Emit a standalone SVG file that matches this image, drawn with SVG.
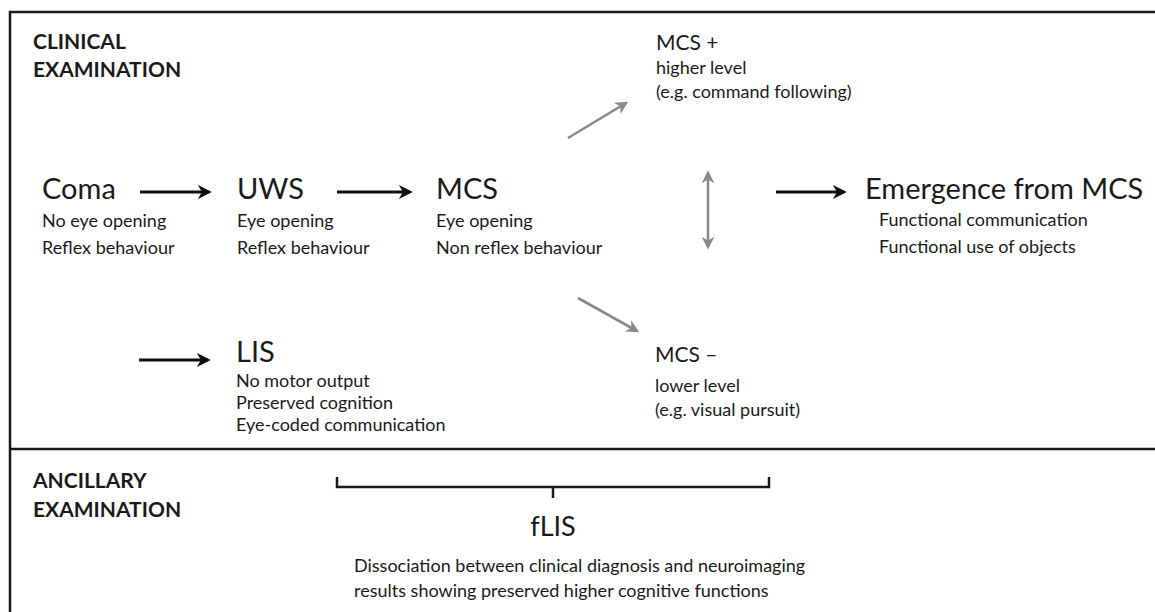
<svg xmlns="http://www.w3.org/2000/svg" width="1155" height="612" viewBox="0 0 1155 612">
<style>
text{font-family:Lato,"Liberation Sans",sans-serif;fill:#1a1a1a}
.h{font-weight:bold;font-size:21px}
.big{font-size:29px}
.mid{font-size:21px}
.sub{font-size:18px}
.ln{stroke:#1a1a1a;stroke-width:2.5;fill:none}
.blk{stroke:#111;stroke-width:2.8;fill:none;marker-end:url(#ab)}
.gry{stroke:#8a8a8a;stroke-width:2.6;fill:none;marker-end:url(#ag)}
</style>
<defs>
<marker id="ab" viewBox="0 0 10 10" refX="8" refY="5" markerWidth="5" markerHeight="5" orient="auto" markerUnits="strokeWidth"><path d="M0,0 L10,5 L0,10 L3,5 z" fill="#111"/></marker>
<marker id="ag" viewBox="0 0 10 10" refX="8" refY="5" markerWidth="5" markerHeight="5" orient="auto-start-reverse" markerUnits="strokeWidth"><path d="M0,0 L10,5 L0,10 L3,5 z" fill="#8a8a8a"/></marker>
</defs>
<rect width="1155" height="612" fill="#fff"/>
<g id="frame">
<path class="ln" d="M10,612 V12 H1155"/>
<path class="ln" d="M10,449 H1155" stroke-width="3"/>
</g>
<g id="clinical"><text class="h" x="33" y="49">CLINICAL</text><text class="h" x="33" y="77">EXAMINATION</text></g>
<g id="ancillary"><text class="h" x="33" y="488">ANCILLARY</text><text class="h" x="33" y="517">EXAMINATION</text></g>
<g id="coma"><text class="big" x="42" y="199">Coma</text><text class="sub" x="42" y="227">No eye opening</text><text class="sub" x="42" y="254">Reflex behaviour</text></g>
<g id="uws"><text class="big" x="237" y="199">UWS</text><text class="sub" x="237" y="227">Eye opening</text><text class="sub" x="237" y="254">Reflex behaviour</text></g>
<g id="mcs"><text class="big" x="436" y="199">MCS</text><text class="sub" x="436" y="227">Eye opening</text><text class="sub" x="436" y="254">Non reflex behaviour</text></g>
<g id="mcsplus"><text class="mid" x="656" y="50">MCS +</text><text class="sub" x="656" y="74">higher level</text><text class="sub" x="656" y="98">(e.g. command following)</text></g>
<g id="mcsminus"><text class="mid" x="655" y="362">MCS –</text><text class="sub" x="655" y="392">lower level</text><text class="sub" x="655" y="416">(e.g. visual pursuit)</text></g>
<g id="emergence"><text class="big" x="865" y="199">Emergence from MCS</text><text class="sub" x="879" y="226">Functional communication</text><text class="sub" x="879" y="253">Functional use of objects</text></g>
<g id="lis"><text class="big" x="236" y="362">LIS</text><text class="sub" x="236" y="387">No motor output</text><text class="sub" x="236" y="409">Preserved cognition</text><text class="sub" x="236" y="431">Eye-coded communication</text></g>
<g id="flis"><text x="553" y="536" text-anchor="middle" font-size="27">fLIS</text><text class="sub" x="354" y="572">Dissociation between clinical diagnosis and neuroimaging</text><text class="sub" x="354" y="597">results showing preserved higher cognitive functions</text></g>
<g id="connectors">
<path class="blk" d="M140,192 H209"/>
<path class="blk" d="M337,192 H410"/>
<path class="blk" d="M776,192 H844"/>
<path class="blk" d="M139,360 H208"/>
<path class="gry" d="M568,138 L626,103"/>
<path class="gry" d="M708,173 V247" marker-start="url(#ag)"/>
<path class="gry" d="M578,298 L637,331"/>
<path class="ln" d="M337,477 V487 H769 V477 M553,487 V498"/>
</g>
</svg>
